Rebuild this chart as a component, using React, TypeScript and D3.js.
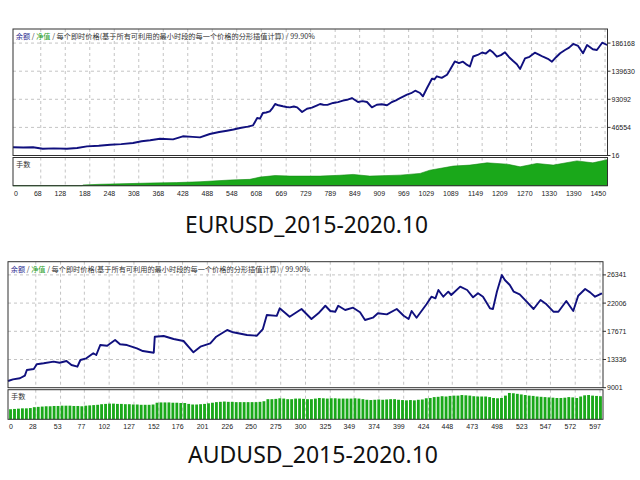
import { area, line, scaleBand, scaleLinear } from 'd3'

// ---------- EURUSD ----------
const eurXTicks = [0, 68, 128, 188, 248, 308, 368, 428, 488, 548, 608, 669, 729, 789, 849, 909, 969, 1029, 1089, 1149, 1209, 1270, 1330, 1390, 1450]
const eurYTicks = [16, 46554, 93092, 139630, 186168]

// [trade number, balance]
const eurBalance: [number, number][] = [
  [0, 13600], [25, 13300], [49, 13600], [73, 11300], [100, 11800], [132, 11300], [157, 12400], [181, 15200],
  [210, 16100], [238, 17900], [265, 18800], [294, 20700], [315, 23600], [336, 25200], [360, 27800], [392, 26800],
  [416, 31800], [440, 30900], [458, 30100], [482, 35600], [505, 38900], [524, 41100], [540, 43000], [556, 45600],
  [575, 47800], [588, 50000], [598, 62100], [605, 61000], [612, 70400], [620, 71200], [629, 73200], [636, 79000],
  [642, 85300], [650, 83200], [661, 81500], [670, 80400], [678, 79800], [688, 81200], [696, 79800], [708, 72100],
  [720, 77500], [732, 79200], [745, 83200], [752, 85300], [760, 84000], [770, 83800], [784, 87000], [796, 88400],
  [808, 90800], [818, 92300], [830, 95200], [845, 88600], [856, 90100], [867, 88600], [879, 79800], [891, 84100],
  [903, 84800], [916, 83200], [928, 88600], [938, 91200], [948, 95200], [965, 100700], [975, 103200], [985, 107300],
  [997, 103500], [1004, 98100], [1014, 111800], [1026, 127200], [1032, 126000], [1038, 131200], [1050, 128500],
  [1063, 133800], [1070, 141600], [1082, 155700], [1092, 153000], [1102, 155400], [1110, 151000], [1119, 147400],
  [1127, 164000], [1138, 166500], [1149, 170600], [1158, 168800], [1168, 174700], [1176, 170500], [1185, 163600],
  [1195, 166200], [1205, 170900], [1215, 162800], [1225, 156500], [1234, 151200], [1242, 143300], [1254, 161000],
  [1265, 163500], [1278, 170300], [1288, 167200], [1298, 163600], [1310, 160200], [1320, 155400], [1330, 162800],
  [1340, 169300], [1352, 174700], [1362, 178600], [1372, 184700], [1384, 181400], [1396, 169300], [1406, 183000],
  [1420, 175900], [1430, 174700], [1443, 186800], [1455, 183000],
]

// [trade number, lots]
const eurLots: [number, number][] = [
  [0, 0], [170, 0], [171, 0.05], [213, 0.1], [260, 0.13], [336, 0.19], [400, 0.22], [458, 0.28], [531, 0.4],
  [580, 0.45], [605, 0.61], [642, 0.72], [678, 0.68], [752, 0.68], [800, 0.74], [833, 0.8], [874, 0.68],
  [948, 0.75], [997, 0.87], [1021, 1.1], [1078, 1.39], [1119, 1.46], [1161, 1.62], [1210, 1.53], [1242, 1.34],
  [1283, 1.58], [1323, 1.46], [1381, 1.76], [1420, 1.62], [1450, 1.81], [1456, 1.85],
]

// ---------- AUDUSD ----------
const audXTicks = [0, 28, 53, 77, 102, 127, 152, 176, 201, 226, 250, 275, 300, 325, 349, 374, 399, 424, 448, 473, 498, 523, 547, 572, 597]
const audYTicks = [9001, 13336, 17671, 22006, 26341]

const audBalance: [number, number][] = [
  [0, 10030], [5, 10290], [12, 10450], [17, 10850], [19, 11720], [26, 11870], [29, 12600], [36, 12750],
  [46, 13000], [52, 12840], [59, 13100], [64, 12490], [70, 12230], [73, 13260], [79, 13520], [86, 14290],
  [89, 14030], [93, 15560], [100, 15460], [108, 16330], [113, 15670], [120, 15560], [130, 15060], [136, 14640],
  [147, 14380], [148, 16840], [157, 16950], [167, 16490], [177, 16180], [187, 14440], [194, 15300], [204, 15820],
  [210, 16840], [221, 17870], [227, 17520], [241, 17100], [251, 16990], [257, 18020], [261, 20170], [271, 20040],
  [274, 21200], [284, 19910], [296, 21100], [306, 19560], [313, 20440], [320, 21600], [325, 20790], [330, 20680],
  [333, 21600], [340, 20940], [348, 21300], [355, 20590], [360, 19410], [368, 19760], [373, 20440], [382, 20280],
  [392, 21100], [399, 20070], [404, 19560], [407, 20790], [412, 19760], [422, 21820], [427, 22990], [431, 22740],
  [434, 24020], [439, 22990], [444, 23760], [447, 23250], [456, 24530], [463, 24020], [469, 22890], [474, 23510],
  [479, 22990], [486, 21200], [489, 21100], [493, 23760], [498, 26320], [501, 25550], [506, 24790], [510, 23760],
  [516, 23360], [523, 22220], [530, 21100], [537, 22480], [543, 21820], [550, 20680], [555, 20680], [563, 22330],
  [570, 20790], [575, 23140], [582, 24170], [587, 23660], [592, 22990], [599, 23510],
]

// lots, one bar per 4 trades
const audLots = [
  0.34, 0.35, 0.36, 0.37, 0.37, 0.38,
  0.41, 0.42, 0.43, 0.44, 0.44, 0.45, 0.45,
  0.46, 0.46, 0.46, 0.45, 0.45, 0.44, 0.46, 0.47, 0.48, 0.49,
  0.51, 0.52, 0.53, 0.53, 0.52, 0.52, 0.51, 0.51, 0.5, 0.5, 0.49, 0.49, 0.49,
  0.5, 0.56, 0.57, 0.57, 0.57, 0.56, 0.56, 0.55, 0.55, 0.52, 0.5, 0.5, 0.51,
  0.52, 0.54, 0.56, 0.58, 0.59, 0.6, 0.59, 0.59, 0.58, 0.58, 0.58, 0.58,
  0.58, 0.58, 0.59, 0.61, 0.68, 0.68, 0.69, 0.71, 0.7, 0.68, 0.68, 0.7, 0.7, 0.69, 0.68,
  0.68, 0.7, 0.72, 0.71, 0.7, 0.71, 0.71, 0.7, 0.7, 0.7, 0.7, 0.71, 0.7, 0.68, 0.66,
  0.65, 0.66, 0.67, 0.66, 0.67, 0.68, 0.68, 0.66, 0.65, 0.64, 0.65, 0.64, 0.66, 0.67, 0.71,
  0.72, 0.75, 0.76, 0.78, 0.77, 0.79, 0.8, 0.8, 0.82, 0.81, 0.8, 0.78, 0.77, 0.77, 0.77,
  0.75, 0.72, 0.71, 0.72, 0.8, 0.89, 0.88, 0.86, 0.84, 0.82, 0.8, 0.79, 0.77, 0.76, 0.75,
  0.74, 0.73, 0.72, 0.72, 0.73, 0.75, 0.74, 0.72, 0.77, 0.81, 0.82, 0.8, 0.79, 0.78,
]

const AXIS_FONT = "'Liberation Sans', Arial, sans-serif"
const CJK_FONT = "'Noto Sans CJK SC', sans-serif"
const GREEN = '#1aa81a'
const NAVY = '#10107e'
const GRID = '#c4c4c4'

type ChartProps = {
  left: number
  right: number
  top: number
  mainBottom: number
  lotTop: number
  lotBottom: number
  xMax: number
  yMax: number
  lotMax: number
  xTicks: number[]
  yTicks: number[]
  balance: [number, number][]
  lotsArea?: [number, number][]
  lotsBars?: number[]
  barStep?: number
}

function TesterChart(p: ChartProps) {
  const x = scaleLinear().domain([0, p.xMax]).range([p.left, p.right])
  const y = scaleLinear().domain([p.yTicks[0], p.yMax]).range([p.mainBottom, p.top])
  const yl = scaleLinear().domain([0, p.lotMax]).range([p.lotBottom, p.lotTop])

  const balancePath = line<[number, number]>()
    .x((d) => x(d[0]))
    .y((d) => y(d[1]))(p.balance)

  let lotsMarks = null
  if (p.lotsArea) {
    const a = area<[number, number]>()
      .x((d) => x(d[0]))
      .y0(p.lotBottom)
      .y1((d) => yl(d[1]))(p.lotsArea)
    lotsMarks = <path d={a ?? ''} fill={GREEN} stroke="#128a12" strokeWidth={0.6} />
  }
  if (p.lotsBars) {
    const step = p.barStep ?? 1
    const band = scaleBand<number>()
      .domain(p.lotsBars.map((_, i) => i))
      .range([x(0), x(p.lotsBars.length * step)])
      .padding(0.28)
    lotsMarks = (
      <g>
        {p.lotsBars.map((v, i) => (
          <rect
            key={i}
            x={band(i)}
            y={yl(v)}
            width={band.bandwidth()}
            height={p.lotBottom - yl(v)}
            fill={GREEN}
          />
        ))}
      </g>
    )
  }

  return (
    <g>
      {/* grid */}
      {p.yTicks.slice(1).map((t) => (
        <line key={'h' + t} x1={p.left} x2={p.right} y1={y(t)} y2={y(t)} stroke={GRID} strokeDasharray="3,3" />
      ))}
      {p.xTicks.slice(1).map((t) => (
        <g key={'v' + t}>
          <line x1={x(t)} x2={x(t)} y1={p.top} y2={p.mainBottom} stroke={GRID} strokeDasharray="3,3" />
          <line x1={x(t)} x2={x(t)} y1={p.lotTop} y2={p.lotBottom} stroke={GRID} strokeDasharray="3,3" />
        </g>
      ))}

      {lotsMarks}
      <path d={balancePath ?? ''} fill="none" stroke={NAVY} strokeWidth={1.9} strokeLinejoin="round" />

      {/* frames */}
      <rect x={p.left} y={p.top} width={p.right - p.left} height={p.mainBottom - p.top} fill="none" stroke="#303030" />
      <rect x={p.left} y={p.lotTop} width={p.right - p.left} height={p.lotBottom - p.lotTop} fill="none" stroke="#303030" />

      {/* title */}
      <text x={p.left + 2.7} y={p.top + 9.8} fontSize={7.2} fontFamily={CJK_FONT} fill="#333">
        <tspan fill="#2a2a90">余额</tspan>
        <tspan> / </tspan>
        <tspan fill="#2aa02a">净值</tspan>
        <tspan> / 每个即时价格(基于所有可利用的最小时段的每一个价格的分形插值计算) / 99.90%</tspan>
      </text>
      <text x={p.left + 3} y={p.lotTop + 9.5} fontSize={7.2} fontFamily={CJK_FONT} fill="#333">
        手数
      </text>

      {/* y axis */}
      {p.yTicks.map((t) => (
        <g key={'yt' + t}>
          <line x1={p.right} x2={p.right + 3} y1={y(t)} y2={y(t)} stroke="#303030" />
          <text x={p.right + 4} y={y(t) + 2.5} fontSize={7} fontFamily={AXIS_FONT} fill="#222">
            {t}
          </text>
        </g>
      ))}

      {/* x axis */}
      {p.xTicks.map((t, i) => (
        <text
          key={'xt' + t}
          x={i === 0 ? p.left + 1 : x(t) + 1}
          y={p.lotBottom + 10}
          fontSize={7}
          fontFamily={AXIS_FONT}
          textAnchor={i === 0 ? 'start' : 'end'}
          fill="#222"
        >
          {t}
        </text>
      ))}
    </g>
  )
}

export default function App() {
  return (
    <svg
      width={640}
      height={480}
      viewBox="0 0 640 480"
      style={{ position: 'absolute', left: 0, top: 0, background: '#fff' }}
    >
      <rect width={640} height={480} fill="#fff" />
      <TesterChart
        left={13}
        right={607.5}
        top={29}
        mainBottom={155.5}
        lotTop={157.5}
        lotBottom={185.7}
        xMax={1456}
        yMax={209500}
        lotMax={2}
        xTicks={eurXTicks}
        yTicks={eurYTicks}
        balance={eurBalance}
        lotsArea={eurLots}
      />
      <text x={185} y={232.5} fontSize={24} fontFamily="'Noto Sans', sans-serif" textLength={243} lengthAdjust="spacingAndGlyphs" fill="#111">
        EURUSD_2015-2020.10
      </text>

      <TesterChart
        left={8}
        right={603}
        top={261.7}
        mainBottom={387.7}
        lotTop={389.7}
        lotBottom={419.3}
        xMax={600}
        yMax={28370}
        lotMax={1}
        xTicks={audXTicks}
        yTicks={audYTicks}
        balance={audBalance}
        lotsBars={audLots}
        barStep={4}
      />
      <text x={188} y={462.5} fontSize={24} fontFamily="'Noto Sans', sans-serif" textLength={250} lengthAdjust="spacingAndGlyphs" fill="#111">
        AUDUSD_2015-2020.10
      </text>
    </svg>
  )
}
